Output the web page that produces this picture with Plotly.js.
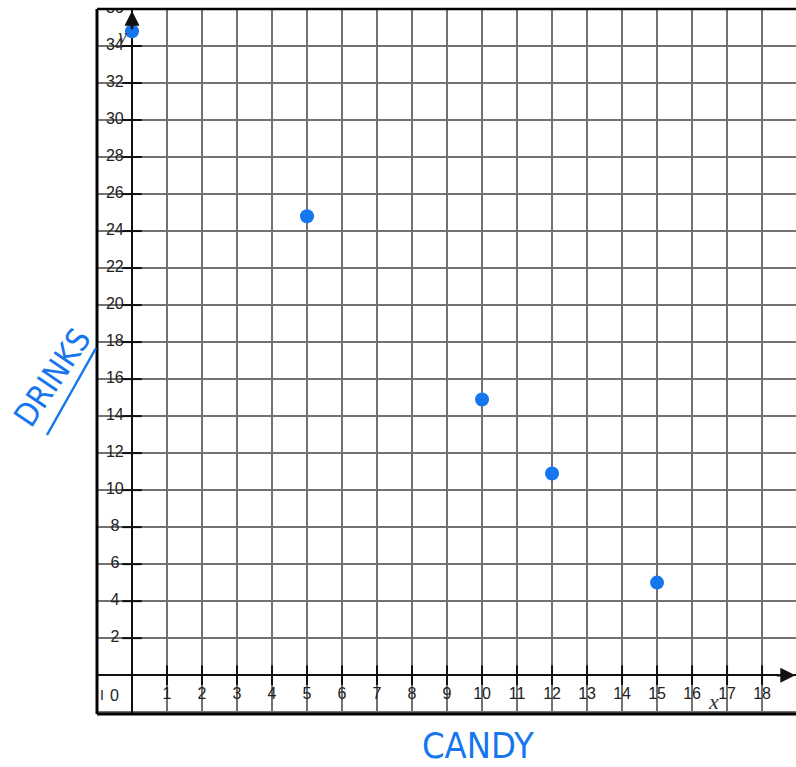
<!DOCTYPE html>
<html>
<head>
<meta charset="utf-8">
<script src="https://cdn.plot.ly/plotly-3.0.1.min.js"></script>
<style>html,body{margin:0;padding:0;background:#fff;}#chart{width:796px;height:767px;}</style>
</head>
<body>
<div id="chart"></div>
<script>
// Data
const candy = [0, 5, 10, 12, 15];
const drinks = [34.8, 24.8, 14.9, 10.9, 5];
const xTickVals = [1,2,3,4,5,6,7,8,9,10,11,12,13,14,15,16,17,18,19];
const xTickText = ["1","2","3","4","5","6","7","8","9","10","11","12","13","14","15","16","17","18","19"];
const yTickVals = [2,4,6,8,10,12,14,16,18,20,22,24,26,28,30,32,34,36];
const yTickText = ["2","4","6","8","10","12","14","16","18","20","22","24","26","28","30","32","34","36"];

const blue = '#1576ee';
const labelFont = {family: 'Liberation Sans, Arial, sans-serif', size: 16, color: '#222'};

const traces = [
  {
    x: yTickVals.map(() => -0.49), y: yTickVals, text: yTickText,
    mode: 'text', type: 'scatter', hoverinfo: 'skip', textfont: labelFont
  },
  {
    x: xTickVals, y: xTickVals.map(() => -1.08), text: xTickText,
    mode: 'text', type: 'scatter', hoverinfo: 'skip', textfont: labelFont
  },
  {
    x: yTickVals.map(() => 0), y: yTickVals, mode: 'markers', type: 'scatter', hoverinfo: 'skip',
    marker: {symbol: 'line-ew-open', size: 14, color: '#111', line: {width: 2, color: '#111'}}
  },
  {
    x: xTickVals, y: xTickVals.map(() => 0), mode: 'markers', type: 'scatter', hoverinfo: 'skip',
    marker: {symbol: 'line-ns-open', size: 14, color: '#111', line: {width: 2, color: '#111'}}
  },
  {
    x: candy, y: drinks, mode: 'markers', type: 'scatter',
    marker: {color: blue, size: 14, symbol: 'circle'},
    cliponaxis: false
  }
];

const layout = {
  width: 796, height: 767,
  margin: {l: 97, r: 0, t: 9, b: 53},
  paper_bgcolor: '#fff', plot_bgcolor: '#fff',
  showlegend: false,
  xaxis: {
    range: [-1, 18.97], tick0: 0, dtick: 1, showgrid: true,
    gridcolor: '#727272', gridwidth: 2,
    zeroline: true, zerolinecolor: '#111', zerolinewidth: 2.5,
    showticklabels: false, ticks: '', showline: false, fixedrange: true
  },
  yaxis: {
    range: [-2.1, 36], tick0: 0, dtick: 2, showgrid: true,
    gridcolor: '#727272', gridwidth: 2,
    zeroline: true, zerolinecolor: '#111', zerolinewidth: 2.5,
    showticklabels: false, ticks: '', showline: false, fixedrange: true
  },
  shapes: [
    {type: 'line', xref: 'paper', yref: 'paper', x0: 0, x1: 0, y0: 0, y1: 1, line: {color: '#000', width: 3}},
    {type: 'line', xref: 'paper', yref: 'paper', x0: 0, x1: 1, y0: 1, y1: 1, line: {color: '#000', width: 2.5}},
    {type: 'line', xref: 'paper', yref: 'paper', x0: 0, x1: 1, y0: 0, y1: 0, line: {color: '#000', width: 3}},
    // underline of handwritten DRINKS
    {type: 'line', xref: 'paper', yref: 'paper',
     x0: (47-97)/699, y0: (714-435)/705, x1: (96-97)/699, y1: (714-348)/705,
     line: {color: blue, width: 2.5}}
  ],
  annotations: [
    // axis arrows
    {x: 0, y: 35.9, xref: 'x', yref: 'y', ax: 0, ay: 20, showarrow: true, arrowhead: 2, arrowsize: 1.2, arrowwidth: 2.5, arrowcolor: '#111', text: ''},
    {x: 18.95, y: 0, xref: 'x', yref: 'y', ax: -20, ay: 0, showarrow: true, arrowhead: 2, arrowsize: 1.2, arrowwidth: 2.5, arrowcolor: '#111', text: ''},
    {x: -0.3, y: 34.5, xref: 'x', yref: 'y', text: 'y', showarrow: false,
     font: {family: 'Liberation Serif, DejaVu Serif, serif', size: 20, color: '#333', style: 'italic'}},
    {x: 16.6, y: -1.45, xref: 'x', yref: 'y', text: 'x', showarrow: false,
     font: {family: 'Liberation Serif, DejaVu Serif, serif', size: 22, color: '#333', style: 'italic'}},
    {x: -0.5, y: -1.08, xref: 'x', yref: 'y', text: '0', showarrow: false, font: labelFont},
    {x: -0.85, y: -1.08, xref: 'x', yref: 'y', text: 'I', showarrow: false,
     font: {family: 'Liberation Sans, Arial, sans-serif', size: 14, color: '#222'}},
    // handwritten axis titles
    {x: (478-97)/699, y: (714-745)/705, xref: 'paper', yref: 'paper', xanchor: 'center', yanchor: 'middle',
     text: 'CANDY', showarrow: false,
     font: {family: 'Liberation Sans Narrow, DejaVu Sans Condensed, sans-serif', size: 36, color: blue}},
    {x: (52-97)/699, y: (714-378)/705, xref: 'paper', yref: 'paper', xanchor: 'center', yanchor: 'middle',
     text: 'DRINKS', showarrow: false, textangle: -56,
     font: {family: 'Liberation Sans Narrow, DejaVu Sans Condensed, sans-serif', size: 32, color: blue}}
  ]
};

Plotly.newPlot('chart', traces, layout, {staticPlot: true, displayModeBar: false});
</script>
</body>
</html>
